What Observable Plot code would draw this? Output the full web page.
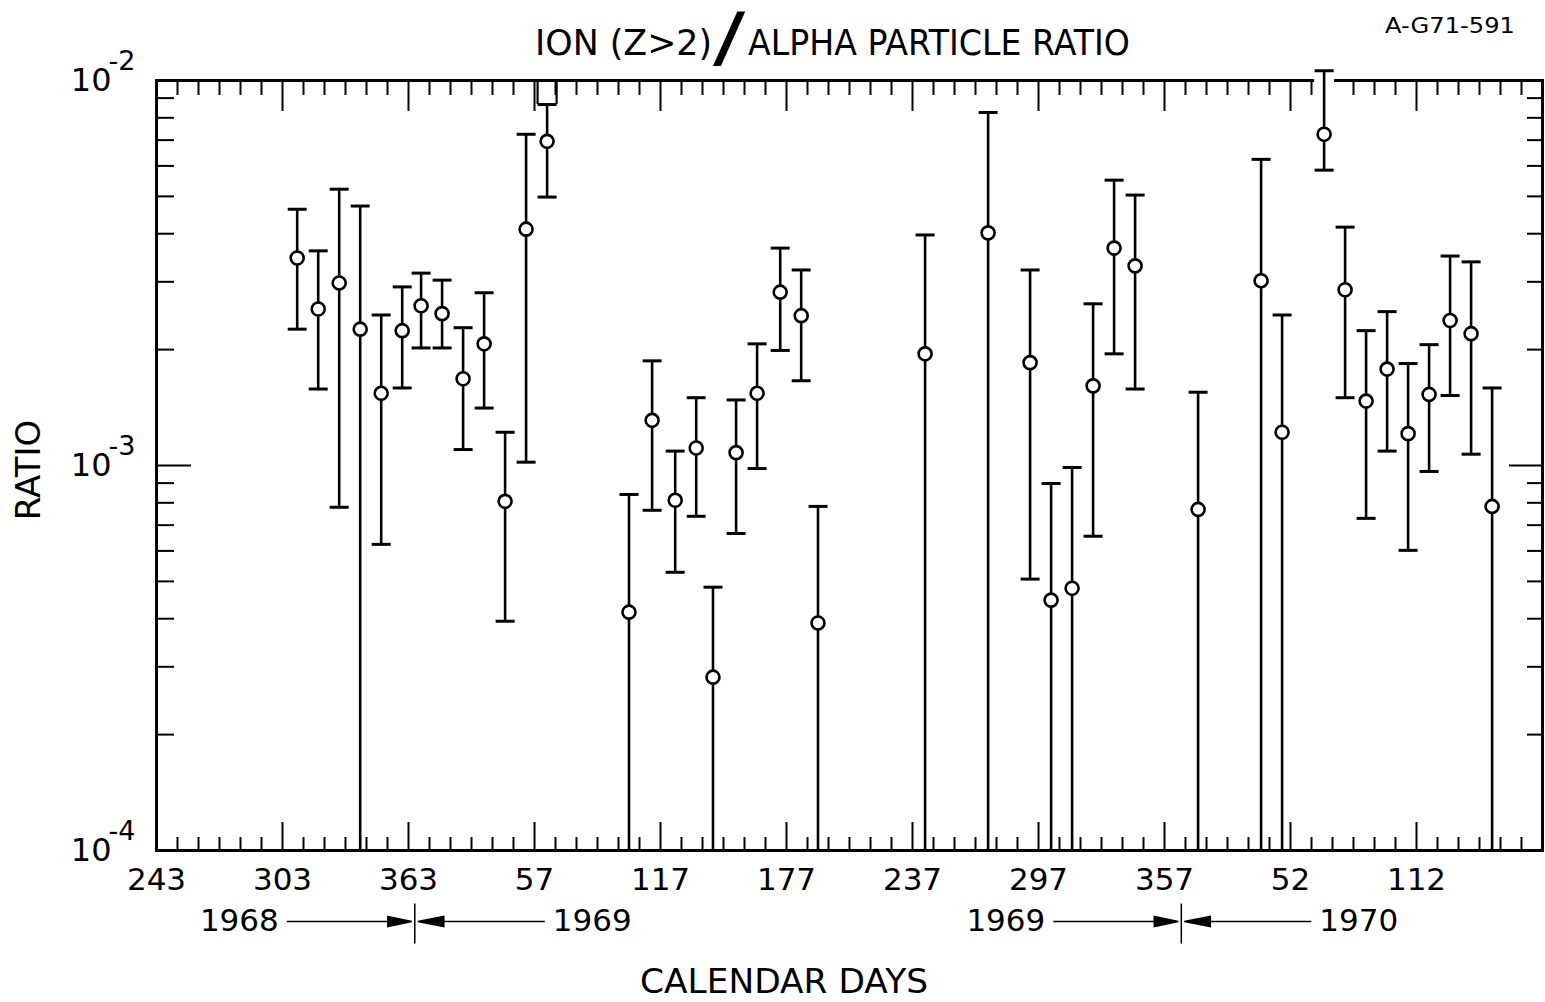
<!DOCTYPE html>
<html>
<head>
<meta charset="utf-8">
<script src="https://cdn.jsdelivr.net/npm/d3@7"></script>
<script src="https://cdn.jsdelivr.net/npm/@observablehq/plot@0.6"></script>
<style>
  html, body { margin: 0; padding: 0; background: white; }
  svg { display: block; }
</style>
</head>
<body>
<div id="chart"></div>
<script>
// ---- data (days counted from 1 Jan 1968 = day 1, continuing through 1969 and 1970) ----
const day = [310,320,330,340,350,360,369,379,389,399,409,419,429,
             468,479,490,500,508,519,529,540,550,558,
             609,639,659,669,679,689,699,709,
             739,769,779,799,809,819,829,839,849,859,869,879];
const ratio = [3.46e-3,2.55e-3,2.98e-3,2.26e-3,1.54e-3,2.24e-3,2.60e-3,2.48e-3,1.68e-3,2.07e-3,8.07e-4,4.11e-3,6.95e-3,
               4.16e-4,1.31e-3,8.12e-4,1.11e-3,2.82e-4,1.08e-3,1.54e-3,2.82e-3,2.45e-3,3.90e-4,
               1.95e-3,4.02e-3,1.85e-3,4.47e-4,4.80e-4,1.61e-3,3.67e-3,3.30e-3,
               7.69e-4,3.02e-3,1.22e-3,7.25e-3,2.86e-3,1.47e-3,1.78e-3,1.21e-3,1.53e-3,2.38e-3,2.20e-3,7.83e-4];
const upper = [4.63e-3,3.61e-3,5.22e-3,4.72e-3,2.46e-3,2.91e-3,3.16e-3,3.03e-3,2.28e-3,2.81e-3,1.22e-3,7.25e-3,8.66e-3,
               8.41e-4,1.87e-3,1.09e-3,1.50e-3,4.83e-4,1.48e-3,2.07e-3,3.67e-3,3.22e-3,7.83e-4,
               3.97e-3,8.26e-3,3.22e-3,8.98e-4,9.88e-4,2.63e-3,5.51e-3,5.04e-3,
               1.55e-3,6.24e-3,2.46e-3,1.06e-2,4.16e-3,2.24e-3,2.51e-3,1.84e-3,2.06e-3,3.50e-3,3.38e-3,1.59e-3];
// null = error bar runs off the bottom of the scale
const lower = [2.26e-3,1.58e-3,7.79e-4,null,6.24e-4,1.59e-3,2.02e-3,2.02e-3,1.10e-3,1.41e-3,3.94e-4,1.02e-3,4.98e-3,
               null,7.65e-4,5.28e-4,7.38e-4,null,6.66e-4,9.82e-4,1.99e-3,1.66e-3,null,
               null,null,5.07e-4,null,null,6.55e-4,1.95e-3,1.58e-3,
               null,null,null,5.85e-3,1.50e-3,7.29e-4,1.09e-3,6.02e-4,9.65e-4,1.52e-3,1.07e-3,null];
const bracketedDays = [429]; // upper bar boxed up to the top edge

// axis ticks / labels
const xDomain = [243, 903];
const xMajorTicks = [243,303,363,423,483,543,603,663,723,783,843];
const xTickLabels = ["243","303","363","57","117","177","237","297","357","52","112"];
const xMinorTicks = d3.range(253, 903, 10).filter(d => !xMajorTicks.includes(d));
const yDomain = [1e-4, 1e-2];
const yMajorTicks = [1e-4, 1e-3, 1e-2];
const yExponentLabels = ["-4", "-3", "-2"];
const yMinorTicks = [2e-4,3e-4,4e-4,5e-4,6e-4,7e-4,8e-4,9e-4,2e-3,3e-3,4e-3,5e-3,6e-3,7e-3,8e-3,9e-3];
const yearBoundary = [366, 731];
const yearBefore = ["1968", "1969"];
const yearAfter = ["1969", "1970"];

const data = day.map((d, i) => ({day: d, ratio: ratio[i], upper: upper[i], lower: lower[i]}));

// ---- layout ----
const W = 1545, H = 1002;
const mL = 156, mR = 3, mT = 80, mB = 152;
const plotW = W - mL - mR, plotH = H - mT - mB;

const capSymbol = {draw(ctx) { ctx.moveTo(-9.5, 0); ctx.lineTo(9.5, 0); }};
const gapSymbol = {draw(ctx) { ctx.moveTo(-10, -6); ctx.lineTo(10, -6); ctx.lineTo(10, 18); ctx.lineTo(-10, 18); ctx.closePath(); }};
const arrowSymbol = {draw(ctx) {
  ctx.moveTo(0, -18); ctx.lineTo(0, 22);
  ctx.moveTo(-128, 0); ctx.lineTo(-27, 0);
  ctx.moveTo(-27, -5); ctx.lineTo(-3, 0); ctx.lineTo(-27, 5); ctx.closePath();
  ctx.moveTo(3, 0); ctx.lineTo(29, -5); ctx.lineTo(29, 5); ctx.closePath();
  ctx.moveTo(29, 0); ctx.lineTo(130, 0);
}};

const years = yearBoundary.map((b, i) => ({b, before: yearBefore[i], after: yearAfter[i]}));

const chart = Plot.plot({
  width: W, height: H,
  marginLeft: mL, marginRight: mR, marginTop: mT, marginBottom: mB,
  style: {fontFamily: "DejaVu Sans", background: "white", color: "black"},
  x: {domain: xDomain, axis: null},
  y: {type: "log", domain: yDomain, axis: null},
  marks: [
    Plot.frame({stroke: "black", strokeWidth: 3}),
    // x ticks (bottom and top, pointing inward)
    Plot.ruleX(xMinorTicks, {x: d => d, insetTop: plotH - 13, stroke: "black", strokeWidth: 2}),
    Plot.ruleX(xMajorTicks, {x: d => d, insetTop: plotH - 28, stroke: "black", strokeWidth: 2}),
    Plot.ruleX(xMinorTicks, {x: d => d, insetBottom: plotH - 15, stroke: "black", strokeWidth: 2}),
    Plot.ruleX(xMajorTicks, {x: d => d, insetBottom: plotH - 31, stroke: "black", strokeWidth: 2}),
    // y ticks (left and right, pointing inward)
    Plot.ruleY(yMinorTicks, {y: d => d, insetRight: plotW - 18, stroke: "black", strokeWidth: 2}),
    Plot.ruleY([1e-3], {y: d => d, insetRight: plotW - 35, stroke: "black", strokeWidth: 2}),
    Plot.ruleY(yMinorTicks, {y: d => d, insetLeft: plotW - 15, stroke: "black", strokeWidth: 2}),
    Plot.ruleY([1e-3], {y: d => d, insetLeft: plotW - 33, stroke: "black", strokeWidth: 2}),
    // gap in the top edge where a bar runs off the scale
    Plot.dot(data.filter(d => d.upper > yDomain[1]), {x: "day", y: () => yDomain[1], symbol: gapSymbol, fill: "white", stroke: "none"}),
    // error bars
    Plot.ruleX(data, {x: "day", y1: d => d.lower ?? yDomain[0], y2: "upper", stroke: "black", strokeWidth: 2.6}),
    Plot.dot(data, {x: "day", y: "upper", symbol: capSymbol, fill: "none", stroke: "black", strokeWidth: 3}),
    Plot.dot(data.filter(d => d.lower != null), {x: "day", y: "lower", symbol: capSymbol, fill: "none", stroke: "black", strokeWidth: 3}),
    Plot.ruleX(data.filter(d => bracketedDays.includes(d.day)), {x: "day", y1: "upper", y2: () => yDomain[1], dx: -9.5, stroke: "black", strokeWidth: 2.2}),
    Plot.ruleX(data.filter(d => bracketedDays.includes(d.day)), {x: "day", y1: "upper", y2: () => yDomain[1], dx: 9.5, stroke: "black", strokeWidth: 2.2}),
    // points
    Plot.dot(data, {x: "day", y: "ratio", r: 6.5, fill: "white", stroke: "black", strokeWidth: 2.6}),
    // x tick labels
    Plot.axisX(xMajorTicks, {tickSize: 0, tickPadding: 17, fontSize: 31,
      tickFormat: d => xTickLabels[xMajorTicks.indexOf(d)]}),
    // y tick labels: 10 with exponent
    Plot.text(yMajorTicks, {y: d => d, frameAnchor: "left", dx: -45, textAnchor: "end", lineAnchor: "middle", text: () => "10", fontSize: 32}),
    Plot.text(yMajorTicks, {y: d => d, frameAnchor: "left", dx: -48, dy: -19, textAnchor: "start", lineAnchor: "middle",
      text: d => yExponentLabels[yMajorTicks.indexOf(d)], fontSize: 27}),
    // year arrows
    Plot.dot(years, {x: "b", frameAnchor: "bottom", dy: 71, symbol: arrowSymbol, fill: "black", stroke: "black", strokeWidth: 1.5}),
    Plot.text(years, {x: "b", frameAnchor: "bottom", dy: 71, dx: -136, textAnchor: "end", lineAnchor: "middle", text: "before", fontSize: 31}),
    Plot.text(years, {x: "b", frameAnchor: "bottom", dy: 71, dx: 138, textAnchor: "start", lineAnchor: "middle", text: "after", fontSize: 31})
  ]
});

document.getElementById("chart").appendChild(chart);

// titles and axis names
const svg = d3.select(chart);
const addText = (txt, attrs) => {
  const t = svg.append("text").text(txt).attr("fill", "black").attr("font-family", "DejaVu Sans").attr("text-anchor", "start");
  for (const [k, v] of Object.entries(attrs)) t.attr(k, v);
  return t;
};
addText("ION (Z>2)", {x: 535, y: 55, "font-size": 35, textLength: 177, lengthAdjust: "spacingAndGlyphs"});
addText("/", {transform: "translate(713,60) scale(1.45,1)", "font-size": 66});
addText("ALPHA PARTICLE RATIO", {x: 748, y: 55, "font-size": 35, textLength: 382, lengthAdjust: "spacingAndGlyphs"});
addText("A-G71-591", {x: 1385, y: 33, "font-size": 22, textLength: 130, lengthAdjust: "spacingAndGlyphs"});
addText("RATIO", {transform: "translate(40,470) rotate(-90)", "text-anchor": "middle", "font-size": 34});
addText("CALENDAR DAYS", {x: 640, y: 993, "font-size": 33, textLength: 288, lengthAdjust: "spacingAndGlyphs"});
</script>
</body>
</html>
